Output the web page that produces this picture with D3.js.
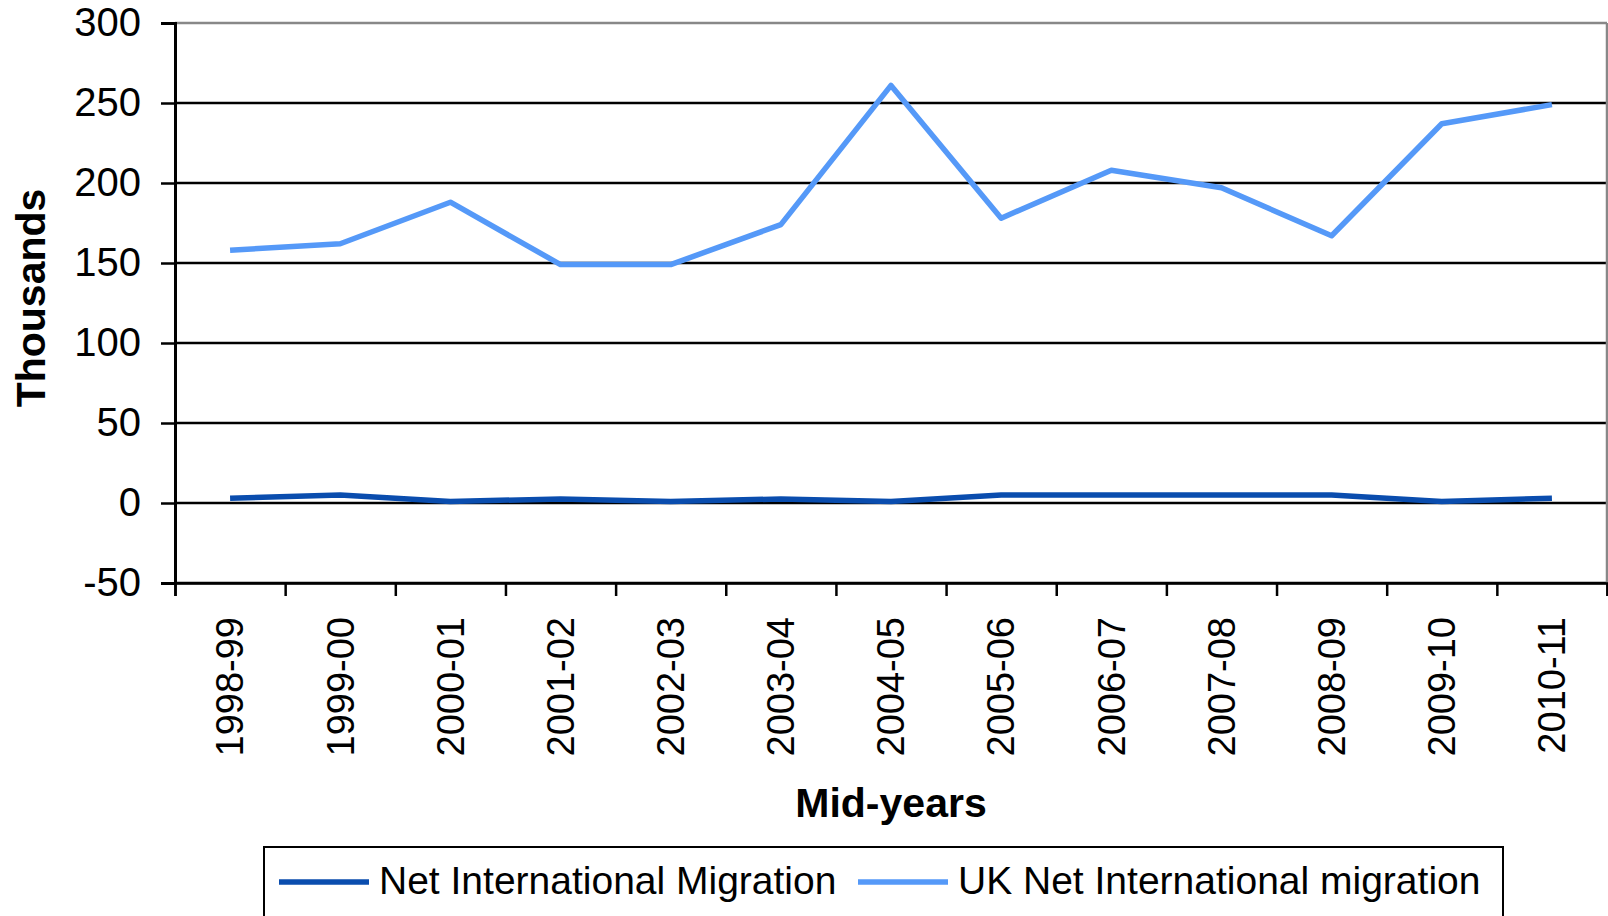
<!DOCTYPE html>
<html>
<head>
<meta charset="utf-8">
<script src="https://cdn.jsdelivr.net/npm/d3@7"></script>
<style>
  body { margin: 0; background: #fff; }
  svg { display: block; font-family: "Liberation Sans", Arial, sans-serif; }
</style>
</head>
<body>
<svg id="chart" width="1608" height="916"></svg>
<script>
const years = ['1998-99', '1999-00', '2000-01', '2001-02', '2002-03', '2003-04', '2004-05',
  '2005-06', '2006-07', '2007-08', '2008-09', '2009-10', '2010-11']
const netMigration = [3, 5, 1, 2.5, 1, 2.5, 1, 5, 5, 5, 5, 1, 3]
const ukNetMigration = [158, 162, 188, 149, 149, 174, 261, 178, 208, 197, 167, 237, 249]
const yTicks = [-50, 0, 50, 100, 150, 200, 250, 300]

const series = [
  {name: 'Net International Migration', values: netMigration, color: '#0a4dae'},
  {name: 'UK Net International migration', values: ukNetMigration, color: '#5599f8'}
]

const svg = d3.select('#chart')
const plotLeft = 175
const plotRight = 1607
const plotTop = 23
const plotBottom = 583

const x = d3.scaleBand().domain(years).range([plotLeft, plotRight])
const y = d3.scaleLinear().domain([-50, 300]).range([plotBottom, plotTop])

// gridlines
svg.append('g').selectAll('line').data(yTicks).enter().append('line')
  .attr('x1', plotLeft).attr('x2', plotRight)
  .attr('y1', d => y(d)).attr('y2', d => y(d))
  .attr('stroke', d => d === 300 ? '#888' : '#000')
  .attr('stroke-width', 2.5)

// right border
svg.append('line')
  .attr('x1', plotRight).attr('x2', plotRight)
  .attr('y1', y(300)).attr('y2', y(-50))
  .attr('stroke', '#888').attr('stroke-width', 2.5)

// y axis
const yAxis = svg.append('g')
  .attr('transform', `translate(${plotLeft},0)`)
  .call(d3.axisLeft(y).tickValues(yTicks).tickSize(14).tickPadding(20).tickFormat(d => String(d)))
yAxis.select('.domain').attr('stroke', '#000').attr('stroke-width', 3)
yAxis.selectAll('.tick line').attr('stroke', '#000').attr('stroke-width', 2.5)
yAxis.selectAll('text').attr('font-size', 40).attr('fill', '#000')
  .attr('font-family', '"Liberation Sans", Arial, sans-serif')

// x axis tick marks at band edges
const edge = d3.scaleLinear().domain([0, years.length]).range([plotLeft, plotRight])
const xTicks = svg.append('g')
  .attr('transform', `translate(0,${plotBottom})`)
  .call(d3.axisBottom(edge).tickValues(d3.range(years.length + 1)).tickSize(13).tickFormat(''))
xTicks.select('.domain').attr('stroke', '#000').attr('stroke-width', 2.5)
xTicks.selectAll('.tick line').attr('stroke', '#000').attr('stroke-width', 2.5)

// x labels
const xAxis = svg.append('g')
  .attr('transform', `translate(0,${plotBottom})`)
  .call(d3.axisBottom(x).tickSize(0))
xAxis.select('.domain').remove()
xAxis.selectAll('text')
  .attr('transform', 'rotate(-90)')
  .attr('x', -34).attr('y', 0).attr('dy', '0.35em')
  .style('text-anchor', 'end')
  .attr('font-size', 38).attr('fill', '#000')
  .attr('font-family', '"Liberation Sans", Arial, sans-serif')

// lines
const line = d3.line()
  .x((d, i) => x(years[i]) + x.bandwidth() / 2)
  .y(d => y(d))

svg.append('g').selectAll('path').data(series).enter().append('path')
  .attr('d', d => line(d.values))
  .attr('fill', 'none')
  .attr('stroke', d => d.color)
  .attr('stroke-width', 5.5)
  .attr('stroke-linejoin', 'round')

// axis titles
svg.append('text')
  .attr('transform', 'translate(31,298) rotate(-90)')
  .attr('text-anchor', 'middle').attr('dominant-baseline', 'central')
  .attr('font-size', 41).attr('font-weight', 'bold')
  .text('Thousands')

svg.append('text')
  .attr('x', (plotLeft + plotRight) / 2).attr('y', 817)
  .attr('text-anchor', 'middle')
  .attr('font-size', 41).attr('font-weight', 'bold')
  .text('Mid-years')

// legend
const legend = svg.append('g')
legend.append('rect')
  .attr('x', 264).attr('y', 847).attr('width', 1239).attr('height', 120)
  .attr('fill', '#fff').attr('stroke', '#000').attr('stroke-width', 2)

const legendX = [279, 858]
const items = legend.selectAll('g.item').data(series).enter().append('g')
  .attr('class', 'item')
  .attr('transform', (d, i) => `translate(${legendX[i]},0)`)
items.append('line')
  .attr('x1', 0).attr('x2', 90).attr('y1', 882).attr('y2', 882)
  .attr('stroke', d => d.color).attr('stroke-width', 5.5)
items.append('text')
  .attr('x', 100).attr('y', 894)
  .attr('font-size', 39)
  .text(d => d.name)
</script>
</body>
</html>
